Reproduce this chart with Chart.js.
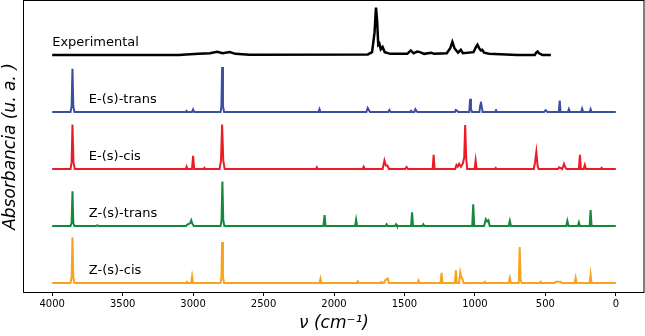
<!DOCTYPE html>
<html>
<head>
<meta charset="utf-8">
<script src="https://cdn.jsdelivr.net/npm/chart.js@4.4.1/dist/chart.umd.min.js"></script>
<style>
  html, body { margin: 0; padding: 0; background: #fff; }
  #wrap { width: 645px; height: 336px; position: relative; }
</style>
</head>
<body>
<div id="wrap"><canvas id="irChart"></canvas></div>
<script>
// wavenumber ticks (cm-1)
const xTicks = [4000, 3500, 3000, 2500, 2000, 1500, 1000, 500, 0];

const names = ['Experimental', 'E-(s)-trans', 'E-(s)-cis', 'Z-(s)-trans', 'Z-(s)-cis'];

// spectra: [wavenumber, normalised absorbance]
const experimental = [
  [4000, 0], [3100, 0], [3050, 0.01], [2960, 0.02], [2880, 0.03], [2830, 0.055], [2790, 0.03],
  [2740, 0.05], [2700, 0.02], [2600, 0.005], [1760, 0.01], [1730, 0.05], [1712, 0.4], [1702, 0.83],
  [1694, 0.6], [1686, 0.18], [1678, 0.2], [1668, 0.1], [1655, 0.14], [1640, 0.05], [1600, 0.02],
  [1480, 0.02], [1455, 0.08], [1435, 0.03], [1410, 0.06], [1390, 0.05], [1360, 0.02], [1310, 0.04],
  [1290, 0.02], [1200, 0.03], [1175, 0.12], [1160, 0.23], [1145, 0.12], [1120, 0.04], [1100, 0.09],
  [1085, 0.03], [1010, 0.05], [990, 0.15], [982, 0.18], [970, 0.12], [958, 0.08], [948, 0.09],
  [935, 0.04], [900, 0.02], [700, 0], [575, 0], [565, 0.04], [555, 0.06], [545, 0.03], [520, 0],
  [461, 0]
];

const eTrans = [
  [4000, 0], [3870, 0], [3862, 0.1], [3856, 0.76], [3850, 0.1], [3842, 0], [3052, 0], [3047, 0.02],
  [3040, 0], [3008, 0], [3000, 0.045], [2992, 0], [2805, 0], [2799, 0.1], [2794, 0.79], [2788, 0.1],
  [2780, 0], [2110, 0], [2103, 0.05], [2096, 0], [1770, 0], [1761, 0.07], [1752, 0.03], [1745, 0],
  [1615, 0], [1607, 0.035], [1598, 0], [1460, 0], [1453, 0.02], [1446, 0], [1430, 0], [1423, 0.05],
  [1415, 0.02], [1408, 0], [1142, 0], [1135, 0.035], [1126, 0.02], [1118, 0], [1040, 0], [1034, 0.23],
  [1028, 0.05], [1020, 0], [968, 0], [962, 0.12], [958, 0.18], [952, 0.1], [945, 0], [857, 0],
  [850, 0.03], [843, 0], [510, 0], [498, 0.03], [486, 0], [405, 0], [398, 0.2], [392, 0], [340, 0],
  [333, 0.05], [326, 0], [246, 0], [239, 0.06], [232, 0], [186, 0], [179, 0.05], [172, 0], [0, 0]
];

const eCis = [
  [4000, 0], [3870, 0], [3862, 0.12], [3856, 0.78], [3849, 0.12], [3840, 0], [3052, 0], [3046, 0.04],
  [3040, 0], [3008, 0], [3000, 0.23], [2992, 0], [2925, 0], [2920, 0.02], [2915, 0], [2812, 0],
  [2802, 0.15], [2794, 0.78], [2786, 0.15], [2776, 0], [2128, 0], [2122, 0.03], [2116, 0], [1796, 0],
  [1789, 0.04], [1782, 0], [1655, 0], [1642, 0.15], [1632, 0.06], [1621, 0.06], [1610, 0], [1495, 0],
  [1485, 0.035], [1475, 0], [1300, 0], [1293, 0.25], [1286, 0], [1140, 0], [1131, 0.07], [1122, 0.04],
  [1112, 0.09], [1100, 0.04], [1085, 0.1], [1076, 0.2], [1069, 0.77], [1062, 0.2], [1055, 0],
  [1002, 0], [995, 0.15], [988, 0], [858, 0], [852, 0.02], [846, 0], [582, 0], [573, 0.12],
  [564, 0.3], [555, 0.05], [548, 0], [410, 0], [403, 0.03], [380, 0], [368, 0.09], [358, 0.03],
  [350, 0], [262, 0], [255, 0.25], [248, 0], [228, 0], [220, 0.07], [212, 0], [108, 0], [101, 0.02],
  [94, 0], [0, 0]
];

const zTrans = [
  [4000, 0], [3870, 0], [3862, 0.05], [3856, 0.61], [3850, 0.05], [3842, 0], [3690, 0], [3679, 0.01],
  [3670, 0], [3050, 0], [3043, 0.02], [3020, 0.05], [3013, 0.1], [3005, 0.04], [2995, 0], [2805, 0],
  [2798, 0.1], [2792, 0.78], [2786, 0.1], [2778, 0], [2075, 0], [2067, 0.19], [2060, 0], [1850, 0],
  [1843, 0.11], [1836, 0], [1633, 0], [1626, 0.03], [1619, 0], [1567, 0], [1560, 0.03], [1553, 0],
  [1453, 0], [1446, 0.24], [1439, 0], [1373, 0], [1366, 0.03], [1359, 0], [1019, 0], [1012, 0.38],
  [1005, 0], [935, 0], [923, 0.12], [912, 0.08], [904, 0.1], [895, 0], [760, 0], [752, 0.09],
  [744, 0], [352, 0], [344, 0.09], [336, 0], [270, 0], [262, 0.065], [255, 0], [186, 0], [179, 0.28],
  [172, 0], [0, 0]
];

const zCis = [
  [4000, 0], [3870, 0], [3862, 0.1], [3856, 0.8], [3850, 0.1], [3842, 0], [3050, 0], [3043, 0.02],
  [3036, 0], [3014, 0], [3007, 0.12], [3000, 0], [2805, 0], [2799, 0.1], [2794, 0.72], [2788, 0.1],
  [2780, 0], [2103, 0], [2096, 0.075], [2089, 0], [1838, 0], [1831, 0.03], [1824, 0], [1672, 0],
  [1666, 0.02], [1645, 0], [1635, 0.05], [1619, 0.08], [1610, 0], [1407, 0], [1400, 0.045],
  [1393, 0], [1244, 0], [1237, 0.18], [1230, 0], [1142, 0], [1135, 0.22], [1128, 0], [1112, 0],
  [1104, 0.19], [1096, 0.1], [1088, 0.07], [1080, 0], [937, 0], [930, 0.02], [923, 0], [760, 0],
  [752, 0.09], [744, 0], [689, 0], [682, 0.63], [676, 0.05], [668, 0], [540, 0], [533, 0.02],
  [526, 0], [434, 0], [427, 0.02], [392, 0.02], [385, 0], [292, 0], [285, 0.09], [278, 0], [186, 0],
  [179, 0.15], [172, 0], [0, 0]
];

(function () {
  const spectra = [experimental, eTrans, eCis, zTrans, zCis];
  const colors = ['#000000', '#3a4ea2', '#ec1c24', '#15893b', '#f9a31b'];
  const widths = [2.5, 2, 2, 2, 2];
  const offsets = [4, 3, 2, 1, 0];

  const datasets = spectra.map((s, i) => ({
    label: names[i],
    data: s.map((p) => ({ x: p[0], y: p[1] + offsets[i] })),
    borderColor: colors[i],
    borderWidth: widths[i],
    pointRadius: 0,
    tension: 0,
    fill: false,
  }));

  const labelPlugin = {
    id: 'labels',
    afterDatasetsDraw(chart) {
      const { ctx, scales } = chart;
      ctx.save();
      ctx.fillStyle = '#000';
      ctx.font = '13px "DejaVu Sans"';
      ctx.textBaseline = 'middle';
      names.forEach((n, i) => {
        const x = scales.x.getPixelForValue(i === 0 ? 4000 : 3740);
        const y = scales.y.getPixelForValue(offsets[i] + 0.22);
        ctx.fillText(n, x, y);
      });
      // frame
      const a = chart.chartArea;
      ctx.strokeStyle = '#000';
      ctx.lineWidth = 1;
      ctx.strokeRect(a.left - 0.5, a.top - 0.5, a.right - a.left + 0.5, a.bottom - a.top + 1);
      ctx.restore();
    },
  };

  new Chart(document.getElementById('irChart'), {
    type: 'line',
    data: { datasets },
    options: {
      responsive: true,
      maintainAspectRatio: false,
      animation: false,
      devicePixelRatio: 1,
      layout: { padding: { left: 0, right: 1, top: 1, bottom: 0 } },
      plugins: { legend: { display: false }, tooltip: { enabled: false } },
      scales: {
        x: {
          type: 'linear',
          reverse: true,
          min: -200,
          max: 4200,
          afterBuildTicks: (s) => { s.ticks = xTicks.map((v) => ({ value: v })); },
          afterFit: (s) => { s.height = 44; },
          grid: { drawOnChartArea: false, drawTicks: true, tickLength: 4, color: '#000' },
          border: { display: false },
          ticks: {
            color: '#000',
            padding: 2,
            maxRotation: 0,
            font: { family: '"DejaVu Sans"', size: 10 },
            callback: (v) => String(v),
          },
          title: {
            display: true,
            text: 'ν (cm⁻¹)',
            color: '#000',
            font: { family: '"DejaVu Sans"', size: 17, style: 'italic' },
            padding: { top: 0, bottom: 2 },
          },
        },
        y: {
          type: 'linear',
          min: -0.158,
          max: 4.947,
          afterFit: (s) => { s.width = 24; },
          grid: { display: false },
          border: { display: false },
          ticks: { display: false },
          title: {
            display: true,
            text: 'Absorbancia (u. a. )',
            color: '#000',
            font: { family: '"DejaVu Sans"', size: 17, style: 'italic' },
            padding: { top: 0, bottom: 2 },
          },
        },
      },
    },
    plugins: [labelPlugin],
  });
})();
</script>
</body>
</html>
